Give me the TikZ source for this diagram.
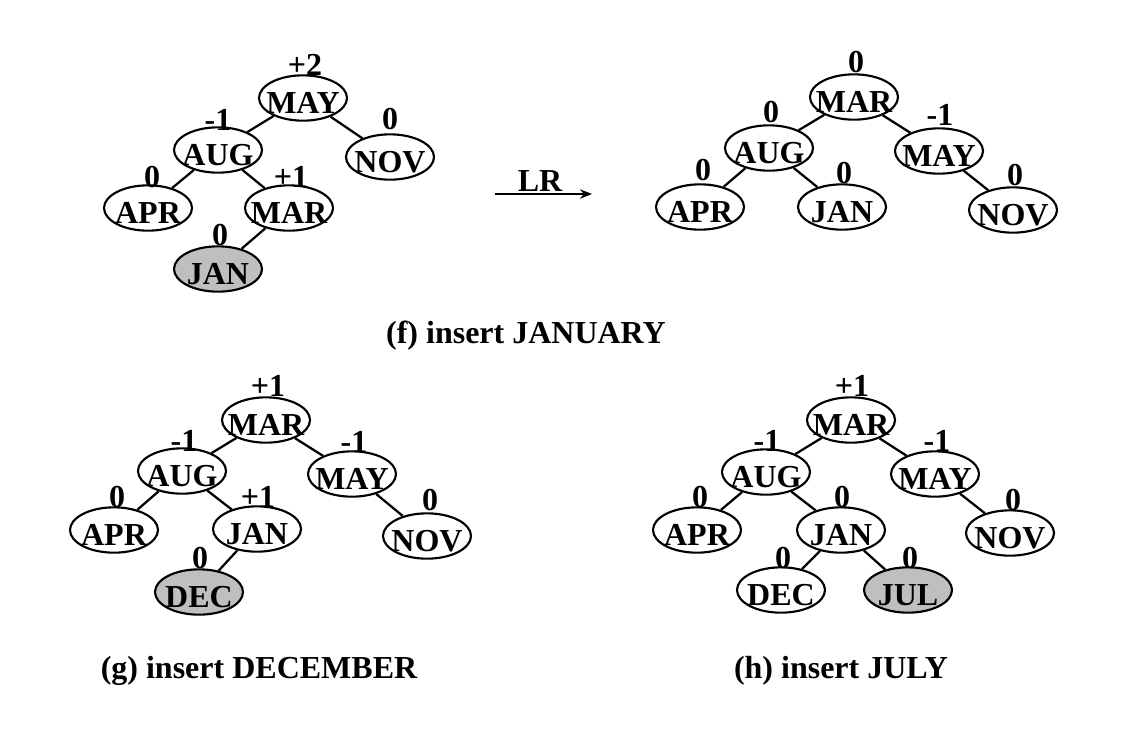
\documentclass[tikz,border=0pt]{standalone}
\usepackage{fontspec}
\setmainfont{Liberation Serif}
\usetikzlibrary{shapes.geometric,arrows.meta}
\newcommand\nlab[1]{\makebox[0pt]{#1}}
\begin{document}
\begin{tikzpicture}[x=0.75pt,y=-0.75pt,
  every node/.style={font=\fontsize{24}{28}\selectfont\bfseries},
  nd/.style={draw, ellipse, line width=1.6pt, minimum width=66pt, minimum height=34pt,
             inner sep=0pt, text height=23pt, text depth=0pt},
  hl/.style={nd, fill=black!25},
  bal/.style={anchor=base, inner sep=0pt},
  edge/.style={line width=1.7pt},
  capt/.style={anchor=base, inner sep=0pt}]
\useasboundingbox (0,0) rectangle (1134,754);

% ---------- (f) left tree ----------
\node[nd] (fMAY) at (303,98) {\nlab{MAY}};
\node[nd] (fAUG) at (218,150) {\nlab{AUG}};
\node[nd] (fNOV) at (390,157) {\nlab{NOV}};
\node[nd] (fAPR) at (148,208) {\nlab{APR}};
\node[nd] (fMAR) at (289,208) {\nlab{MAR}};
\node[hl] (fJAN) at (218,269) {\nlab{JAN}};
\node[bal] (bfMAY) at (305,75) {+2};
\node[bal] (bfAUG) at (218,130) {-1};
\node[bal] (bfNOV) at (390,129) {0};
\node[bal] (bfAPR) at (152,187) {0};
\node[bal] (bfMAR) at (291,187) {+1};
\node[bal] (bfJAN) at (220,245) {0};
\draw[edge] (fMAY) -- (fAUG);
\draw[edge] (fMAY) -- (fNOV);
\draw[edge] (fAUG) -- (fAPR);
\draw[edge] (fAUG) -- (fMAR);
\draw[edge] (fMAR) -- (fJAN);

% ---------- arrow ----------
\coordinate (a1) at (495,194);
\coordinate (a2) at (592,194);
\draw[line width=1.6pt, -{Stealth[length=9pt,width=7pt]}] (a1) -- (a2);
\node[bal] (LR) at (540,191) {LR};

% ---------- (f) right tree ----------
\node[nd] (rMAR) at (854,97) {\nlab{MAR}};
\node[nd] (rAUG) at (769,148) {\nlab{AUG}};
\node[nd] (rMAY) at (939,151) {\nlab{MAY}};
\node[nd] (rAPR) at (700,207) {\nlab{APR}};
\node[nd] (rJAN) at (842,207) {\nlab{JAN}};
\node[nd] (rNOV) at (1013,210) {\nlab{NOV}};
\node[bal] (brMAR) at (856,72) {0};
\node[bal] (brAUG) at (771,122) {0};
\node[bal] (brMAY) at (940,125) {-1};
\node[bal] (brAPR) at (703,180) {0};
\node[bal] (brJAN) at (844,183) {0};
\node[bal] (brNOV) at (1015,185) {0};
\draw[edge] (rMAR) -- (rAUG);
\draw[edge] (rMAR) -- (rMAY);
\draw[edge] (rAUG) -- (rAPR);
\draw[edge] (rAUG) -- (rJAN);
\draw[edge] (rMAY) -- (rNOV);

\node[capt] (capf) at (526,343) {(f) insert JANUARY};

% ---------- (g) tree ----------
\node[nd] (gMAR) at (266,420) {\nlab{MAR}};
\node[nd] (gAUG) at (182,471) {\nlab{AUG}};
\node[nd] (gMAY) at (352,474) {\nlab{MAY}};
\node[nd] (gAPR) at (114,530) {\nlab{APR}};
\node[nd] (gJAN) at (257,529) {\nlab{JAN}};
\node[nd] (gNOV) at (427,536) {\nlab{NOV}};
\node[hl] (gDEC) at (199,592) {\nlab{DEC}};
\node[bal] (bgMAR) at (268,396) {+1};
\node[bal] (bgAUG) at (184,451) {-1};
\node[bal] (bgMAY) at (354,452) {-1};
\node[bal] (bgAPR) at (117,507) {0};
\node[bal] (bgJAN) at (258,507) {+1};
\node[bal] (bgNOV) at (430,510) {0};
\node[bal] (bgDEC) at (200,568) {0};
\draw[edge] (gMAR) -- (gAUG);
\draw[edge] (gMAR) -- (gMAY);
\draw[edge] (gAUG) -- (gAPR);
\draw[edge] (gAUG) -- (gJAN);
\draw[edge] (gMAY) -- (gNOV);
\draw[edge] (gJAN) -- (gDEC);

\node[capt] (capg) at (259,678) {(g) insert DECEMBER};

% ---------- (h) tree ----------
\node[nd] (hMAR) at (851,420) {\nlab{MAR}};
\node[nd] (hAUG) at (766,472) {\nlab{AUG}};
\node[nd] (hMAY) at (935,474) {\nlab{MAY}};
\node[nd] (hAPR) at (697,530) {\nlab{APR}};
\node[nd] (hJAN) at (841,530) {\nlab{JAN}};
\node[nd] (hNOV) at (1010,533) {\nlab{NOV}};
\node[nd] (hDEC) at (781,590) {\nlab{DEC}};
\node[hl] (hJUL) at (908,590) {\nlab{JUL}};
\node[bal] (bhMAR) at (852,396) {+1};
\node[bal] (bhAUG) at (767,451) {-1};
\node[bal] (bhMAY) at (937,451) {-1};
\node[bal] (bhAPR) at (700,507) {0};
\node[bal] (bhJAN) at (842,507) {0};
\node[bal] (bhNOV) at (1013,510) {0};
\node[bal] (bhDEC) at (783,568) {0};
\node[bal] (bhJUL) at (910,568) {0};
\draw[edge] (hMAR) -- (hAUG);
\draw[edge] (hMAR) -- (hMAY);
\draw[edge] (hAUG) -- (hAPR);
\draw[edge] (hAUG) -- (hJAN);
\draw[edge] (hMAY) -- (hNOV);
\draw[edge] (hJAN) -- (hDEC);
\draw[edge] (hJAN) -- (hJUL);

\node[capt] (caph) at (841,678) {(h) insert JULY};
\end{tikzpicture}
\end{document}
